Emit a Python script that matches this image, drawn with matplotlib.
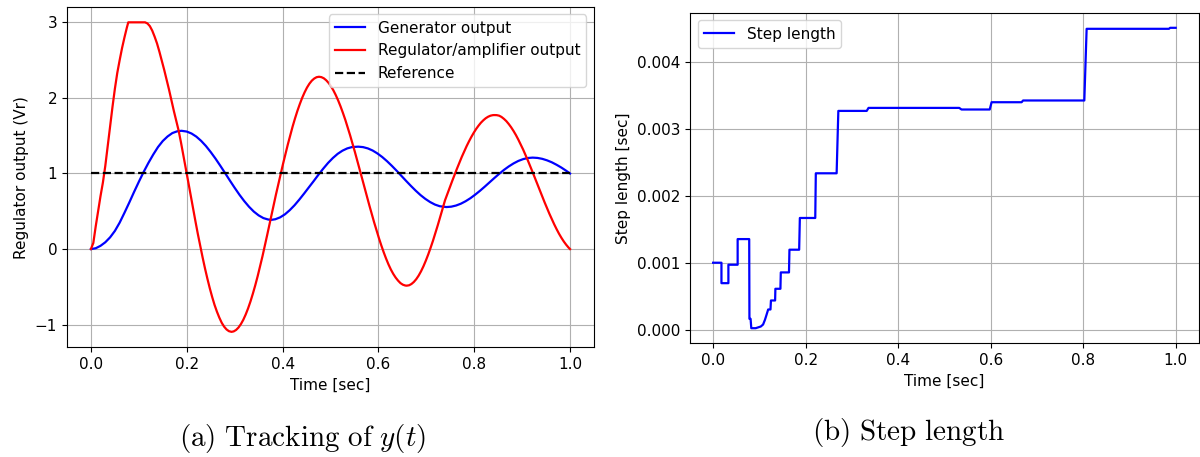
import numpy as np
import matplotlib
matplotlib.use("Agg")
import matplotlib.pyplot as plt

plt.rcParams['mathtext.fontset'] = 'cm'

# (a) tracking of y(t)
t_reg = [0.0, 0.005, 0.010, 0.015, 0.020, 0.025, 0.030, 0.035, 0.040, 0.045, 0.050, 0.055,
         0.060, 0.065, 0.070, 0.075, 0.078, 0.113, 0.118, 0.123, 0.128, 0.133, 0.138, 0.143,
         0.148, 0.153, 0.158, 0.163, 0.168, 0.173, 0.178, 0.183, 0.188, 0.193, 0.198, 0.203,
         0.208, 0.213, 0.218, 0.223, 0.228, 0.233, 0.238, 0.243, 0.248, 0.253, 0.258, 0.263,
         0.268, 0.273, 0.278, 0.283, 0.288, 0.2934, 0.298, 0.303, 0.308, 0.313, 0.318, 0.323,
         0.328, 0.333, 0.338, 0.343, 0.348, 0.353, 0.358, 0.363, 0.368, 0.373, 0.378, 0.3816,
         0.386, 0.391, 0.396, 0.401, 0.406, 0.411, 0.416, 0.421, 0.426, 0.431, 0.436, 0.441,
         0.446, 0.451, 0.456, 0.461, 0.466, 0.471, 0.476, 0.481, 0.486, 0.491, 0.496, 0.501,
         0.506, 0.511, 0.516, 0.521, 0.526, 0.531, 0.536, 0.541, 0.546, 0.551, 0.556, 0.561,
         0.566, 0.571, 0.576, 0.581, 0.586, 0.591, 0.596, 0.601, 0.606, 0.611, 0.616, 0.621,
         0.626, 0.631, 0.636, 0.641, 0.646, 0.651, 0.656, 0.659, 0.664, 0.669, 0.674, 0.679,
         0.684, 0.689, 0.694, 0.699, 0.704, 0.709, 0.714, 0.719, 0.724, 0.729, 0.734, 0.739,
         0.744, 0.749, 0.754, 0.759, 0.764, 0.769, 0.774, 0.779, 0.784, 0.789, 0.794, 0.799,
         0.804, 0.809, 0.814, 0.819, 0.824, 0.829, 0.834, 0.839, 0.842, 0.847, 0.852, 0.857,
         0.862, 0.867, 0.872, 0.877, 0.882, 0.887, 0.892, 0.897, 0.902, 0.907, 0.912, 0.917,
         0.922, 0.927, 0.932, 0.937, 0.942, 0.947, 0.952, 0.957, 0.962, 0.967, 0.972, 0.977,
         0.982, 0.987, 0.992, 0.997, 1.0]
v_reg = [0.0, 0.08, 0.30, 0.50, 0.70, 0.88, 1.10, 1.36, 1.62, 1.88, 2.12, 2.33,
         2.50, 2.66, 2.80, 2.93, 3.00, 3.00, 2.985, 2.95, 2.89, 2.81, 2.72, 2.61,
         2.49, 2.37, 2.24, 2.11, 1.97, 1.83, 1.70, 1.57, 1.41, 1.24, 1.07, 0.894,
         0.718, 0.543, 0.373, 0.205, 0.046, -0.107, -0.253, -0.389, -0.516, -0.632, -0.738, -0.828,
         -0.907, -0.975, -1.026, -1.063, -1.086, -1.095, -1.089, -1.070, -1.038, -0.993, -0.936, -0.866,
         -0.785, -0.693, -0.590, -0.479, -0.359, -0.231, -0.097, 0.044, 0.189, 0.336, 0.485, 0.5925,
         0.716, 0.855, 0.993, 1.128, 1.259, 1.385, 1.506, 1.622, 1.729, 1.829, 1.919, 2.002,
         2.074, 2.137, 2.188, 2.228, 2.256, 2.274, 2.280, 2.275, 2.260, 2.234, 2.199, 2.155,
         2.101, 2.038, 1.967, 1.888, 1.801, 1.709, 1.609, 1.505, 1.396, 1.284, 1.169, 1.052,
         0.934, 0.815, 0.697, 0.581, 0.467, 0.356, 0.249, 0.147, 0.050, -0.041, -0.125, -0.202,
         -0.270, -0.328, -0.377, -0.417, -0.450, -0.471, -0.482, -0.484, -0.479, -0.462, -0.435, -0.398,
         -0.351, -0.294, -0.228, -0.153, -0.071, 0.018, 0.112, 0.213, 0.317, 0.424, 0.534, 0.6445,
         0.731, 0.816, 0.900, 0.983, 1.064, 1.143, 1.219, 1.291, 1.360, 1.424, 1.484, 1.539,
         1.589, 1.633, 1.672, 1.704, 1.731, 1.751, 1.765, 1.772, 1.773, 1.772, 1.765, 1.748,
         1.723, 1.693, 1.655, 1.612, 1.563, 1.509, 1.449, 1.385, 1.318, 1.246, 1.172, 1.095,
         1.016, 0.936, 0.856, 0.776, 0.696, 0.617, 0.540, 0.466, 0.395, 0.327, 0.263, 0.203,
         0.149, 0.100, 0.057, 0.019, 0.0]

t_gen = [0.0, 0.010, 0.020, 0.030, 0.040, 0.050, 0.060, 0.070, 0.080, 0.090, 0.100, 0.110,
         0.120, 0.130, 0.140, 0.150, 0.160, 0.170, 0.180, 0.189, 0.200, 0.210, 0.220, 0.230,
         0.240, 0.250, 0.260, 0.270, 0.280, 0.290, 0.300, 0.310, 0.320, 0.330, 0.340, 0.350,
         0.360, 0.370, 0.377, 0.385, 0.395, 0.405, 0.415, 0.425, 0.435, 0.445, 0.455, 0.465,
         0.475, 0.485, 0.495, 0.505, 0.515, 0.525, 0.535, 0.545, 0.558, 0.568, 0.578, 0.588,
         0.598, 0.608, 0.618, 0.628, 0.638, 0.648, 0.658, 0.668, 0.678, 0.688, 0.698, 0.708,
         0.718, 0.728, 0.742, 0.752, 0.762, 0.772, 0.782, 0.792, 0.802, 0.812, 0.822, 0.832,
         0.842, 0.852, 0.862, 0.872, 0.882, 0.892, 0.902, 0.912, 0.922, 0.932, 0.942, 0.952,
         0.962, 0.972, 0.982, 0.992, 1.0]
v_gen = [0.0, 0.011, 0.043, 0.090, 0.155, 0.240, 0.350, 0.480, 0.615, 0.755, 0.890, 1.020,
         1.140, 1.250, 1.350, 1.430, 1.490, 1.535, 1.558, 1.565, 1.555, 1.529, 1.488, 1.432,
         1.364, 1.284, 1.197, 1.103, 1.006, 0.907, 0.811, 0.719, 0.635, 0.560, 0.496, 0.446,
         0.410, 0.391, 0.387, 0.395, 0.420, 0.460, 0.515, 0.580, 0.655, 0.735, 0.818, 0.900,
         0.985, 1.065, 1.140, 1.205, 1.260, 1.302, 1.332, 1.350, 1.355, 1.349, 1.332, 1.304,
         1.265, 1.218, 1.163, 1.102, 1.037, 0.969, 0.901, 0.835, 0.772, 0.714, 0.664, 0.622,
         0.589, 0.567, 0.556, 0.561, 0.576, 0.600, 0.633, 0.673, 0.720, 0.771, 0.826, 0.883,
         0.940, 0.995, 1.047, 1.093, 1.133, 1.166, 1.190, 1.205, 1.210, 1.206, 1.194, 1.174,
         1.148, 1.115, 1.078, 1.036, 1.0]

t_ref = [0.0, 1.0]
v_ref = [1.0, 1.0]

# (b) step length
t_step = [0.0, 0.018, 0.018, 0.033, 0.033, 0.053, 0.053, 0.078, 0.0785, 0.081, 0.0825, 0.092,
          0.103, 0.108, 0.112, 0.115, 0.119, 0.124, 0.125, 0.134, 0.1346, 0.1455, 0.1463, 0.164,
          0.165, 0.186, 0.1875, 0.2208, 0.222, 0.267, 0.2707, 0.332, 0.336, 0.532, 0.537, 0.598,
          0.602, 0.667, 0.670, 0.8025, 0.8075, 0.9855, 0.988, 1.0]
v_step = [1.0, 1.0, 0.694, 0.694, 0.97, 0.97, 1.354, 1.354, 0.16, 0.16, 0.02, 0.02,
          0.045, 0.075, 0.145, 0.21, 0.30, 0.30, 0.435, 0.435, 0.61, 0.61, 0.855, 0.855,
          1.195, 1.195, 1.67, 1.67, 2.339, 2.339, 3.273, 3.273, 3.318, 3.318, 3.294, 3.294,
          3.403, 3.403, 3.429, 3.429, 4.502, 4.502, 4.517, 4.517]
v_step = np.array(v_step) * 1e-3

fig = plt.figure(figsize=(12, 4.57), dpi=100)
ax1 = fig.add_axes([0.0558, 0.240, 0.4392, 0.745])
ax2 = fig.add_axes([0.575, 0.249, 0.424, 0.723])

ax1.plot(t_gen, v_gen, color='blue', lw=1.6, label='Generator output')
ax1.plot(t_reg, v_reg, color='red', lw=1.6, label='Regulator/amplifier output')
ax1.plot(t_ref, v_ref, 'k--', lw=1.6, label='Reference')
ax1.set_xlabel('Time [sec]', fontsize=11)
ax1.set_ylabel('Regulator output (Vr)', fontsize=11)
ax1.set_yticks([-1, 0, 1, 2, 3])
ax1.grid(True)
ax1.legend(loc='upper right', fontsize=11)

ax2.plot(t_step, v_step, color='blue', lw=1.6, label='Step length')
ax2.set_xlabel('Time [sec]', fontsize=11)
ax2.set_ylabel('Step length [sec]', fontsize=11)
ax2.set_yticks([0, 0.001, 0.002, 0.003, 0.004])
ax2.grid(True)
ax2.legend(loc='upper left', fontsize=11)

for ax in (ax1, ax2):
    ax.tick_params(labelsize=11)

fig.text(0.252, 0.041, r'$\mathrm{(a)\ Tracking\ of\ }y(t)$', fontsize=21, ha='center', va='center')
fig.text(0.757, 0.054, r'$\mathrm{(b)\ Step\ length}$', fontsize=21, ha='center', va='center')

fig.savefig('out.png', dpi=100)
